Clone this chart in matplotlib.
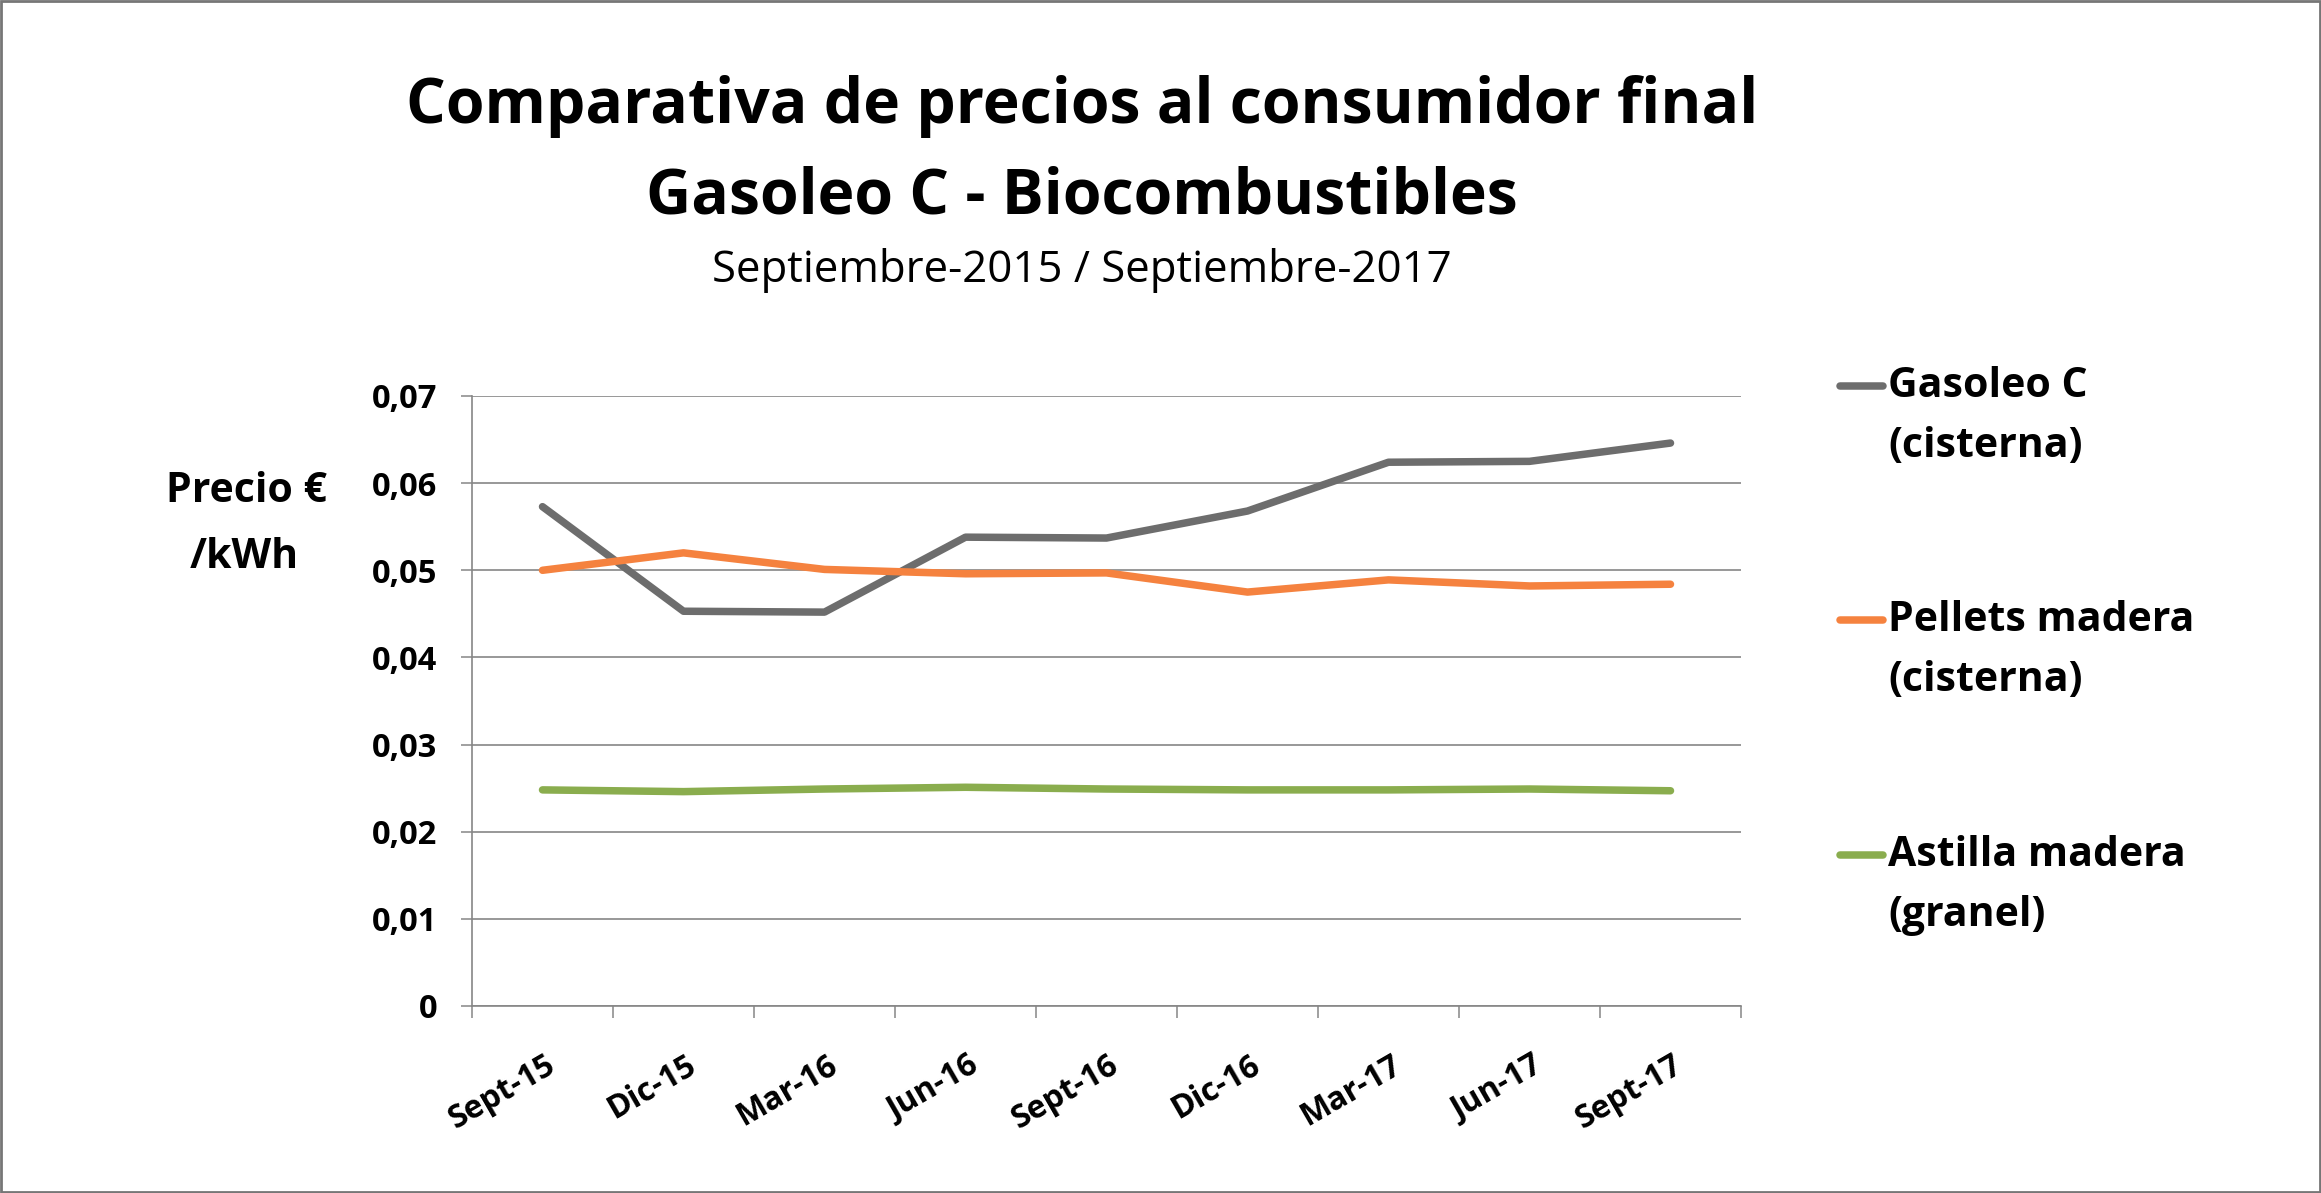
import numpy as np
import matplotlib.pyplot as plt
from matplotlib.lines import Line2D
from matplotlib.patches import Rectangle
from matplotlib.transforms import ScaledTranslation

plt.rcParams['font.family'] = ['Open Sans', 'DejaVu Sans']

# data
categories = ['Sept-15', 'Dic-15', 'Mar-16', 'Jun-16', 'Sept-16',
              'Dic-16', 'Mar-17', 'Jun-17', 'Sept-17']
gasoleo = [0.0573, 0.0453, 0.0452, 0.0538, 0.0537, 0.0568, 0.0624, 0.0625, 0.0646]
pellets = [0.0500, 0.0520, 0.0501, 0.0496, 0.0497, 0.0475, 0.0489, 0.0482, 0.0484]
astilla = [0.0248, 0.0246, 0.0249, 0.0251, 0.0249, 0.0248, 0.0248, 0.0249, 0.0247]

series_names = [('Gasoleo C', '(cisterna)'),
                ('Pellets madera', '(cisterna)'),
                ('Astilla madera', '(granel)')]
series_values = [gasoleo, pellets, astilla]
colors = ['#6d6d6d', '#f5823f', '#8aad4e']
y_ticks = [0, 0.01, 0.02, 0.03, 0.04, 0.05, 0.06, 0.07]

W, H = 2321, 1193
grid_color = '#868686'


def fy(px):
    # figure fraction from pixel row counted from top
    return 1 - px / H


fig = plt.figure(figsize=(W / 100, H / 100), dpi=100)
ax = fig.add_axes([472 / W, fy(1006), (1741 - 472) / W, (1006 - 396) / H])

x = np.arange(len(categories))
for vals, c in zip(series_values, colors):
    ax.plot(x, vals, color=c, lw=5.4, solid_capstyle='round', solid_joinstyle='round', zorder=3)

ax.set_xlim(-0.5, len(categories) - 0.5)
ax.set_ylim(0, 0.07)

# y axis
ax.set_yticks(y_ticks)
ax.set_yticklabels(['0' if v == 0 else f'{v:.2f}'.replace('.', ',') for v in y_ticks],
                   fontsize=23.5, fontweight='bold')
ax.yaxis.grid(True, color=grid_color, lw=1.2)
ax.tick_params(axis='y', length=8, width=1.1, color=grid_color, pad=17)

# x axis: ticks between categories, labels at the centres
ax.set_xticks(np.arange(-0.5, len(categories)))
ax.set_xticklabels([])
ax.set_xticks(x, minor=True)
ax.set_xticklabels(categories, minor=True, fontsize=23, fontweight='bold',
                   rotation=30, ha='right', va='center', rotation_mode='anchor')
ax.tick_params(axis='x', which='major', length=8.6, width=1.1, color=grid_color)
ax.tick_params(axis='x', which='minor', length=0, pad=41)
for lab in ax.get_xticklabels(minor=True):
    lab.set_transform(lab.get_transform() + ScaledTranslation(0.1, 0, fig.dpi_scale_trans))

for side in ['top', 'right']:
    ax.spines[side].set_visible(False)
for side in ['left', 'bottom']:
    ax.spines[side].set_color(grid_color)
    ax.spines[side].set_linewidth(1.2)
ax.set_axisbelow(True)

# titles
fig.text(1082 / W, fy(123), 'Comparativa de precios al consumidor final',
         ha='center', va='baseline', fontsize=45, fontweight='bold')
fig.text(1082 / W, fy(214), 'Gasoleo C - Biocombustibles',
         ha='center', va='baseline', fontsize=45, fontweight='bold')
fig.text(1082 / W, fy(282), 'Septiembre-2015 / Septiembre-2017',
         ha='center', va='baseline', fontsize=31.5)

# y label
fig.text(246 / W, fy(502), 'Precio €', ha='center', va='baseline',
         fontsize=29.5, fontweight='bold')
fig.text(244 / W, fy(568), '/kWh', ha='center', va='baseline',
         fontsize=29.5, fontweight='bold')

# legend on the right
handle_rows = [386, 620, 855]
for (l1, l2), c, row in zip(series_names, colors, handle_rows):
    fig.add_artist(Line2D([1840 / W, 1883 / W], [fy(row), fy(row)], color=c, lw=5.4,
                          solid_capstyle='round', transform=fig.transFigure))
    fig.text(1888 / W, fy(row + 11), l1, ha='left', va='baseline',
             fontsize=29.5, fontweight='bold')
    fig.text(1888 / W, fy(row + 71), l2, ha='left', va='baseline',
             fontsize=29.5, fontweight='bold')

# outer border
fig.add_artist(Rectangle((0.0005, 0.001), 0.999, 0.998, transform=fig.transFigure,
                         fill=False, edgecolor='#767676', lw=2))

fig.savefig('out.png', dpi=100, facecolor='white')
